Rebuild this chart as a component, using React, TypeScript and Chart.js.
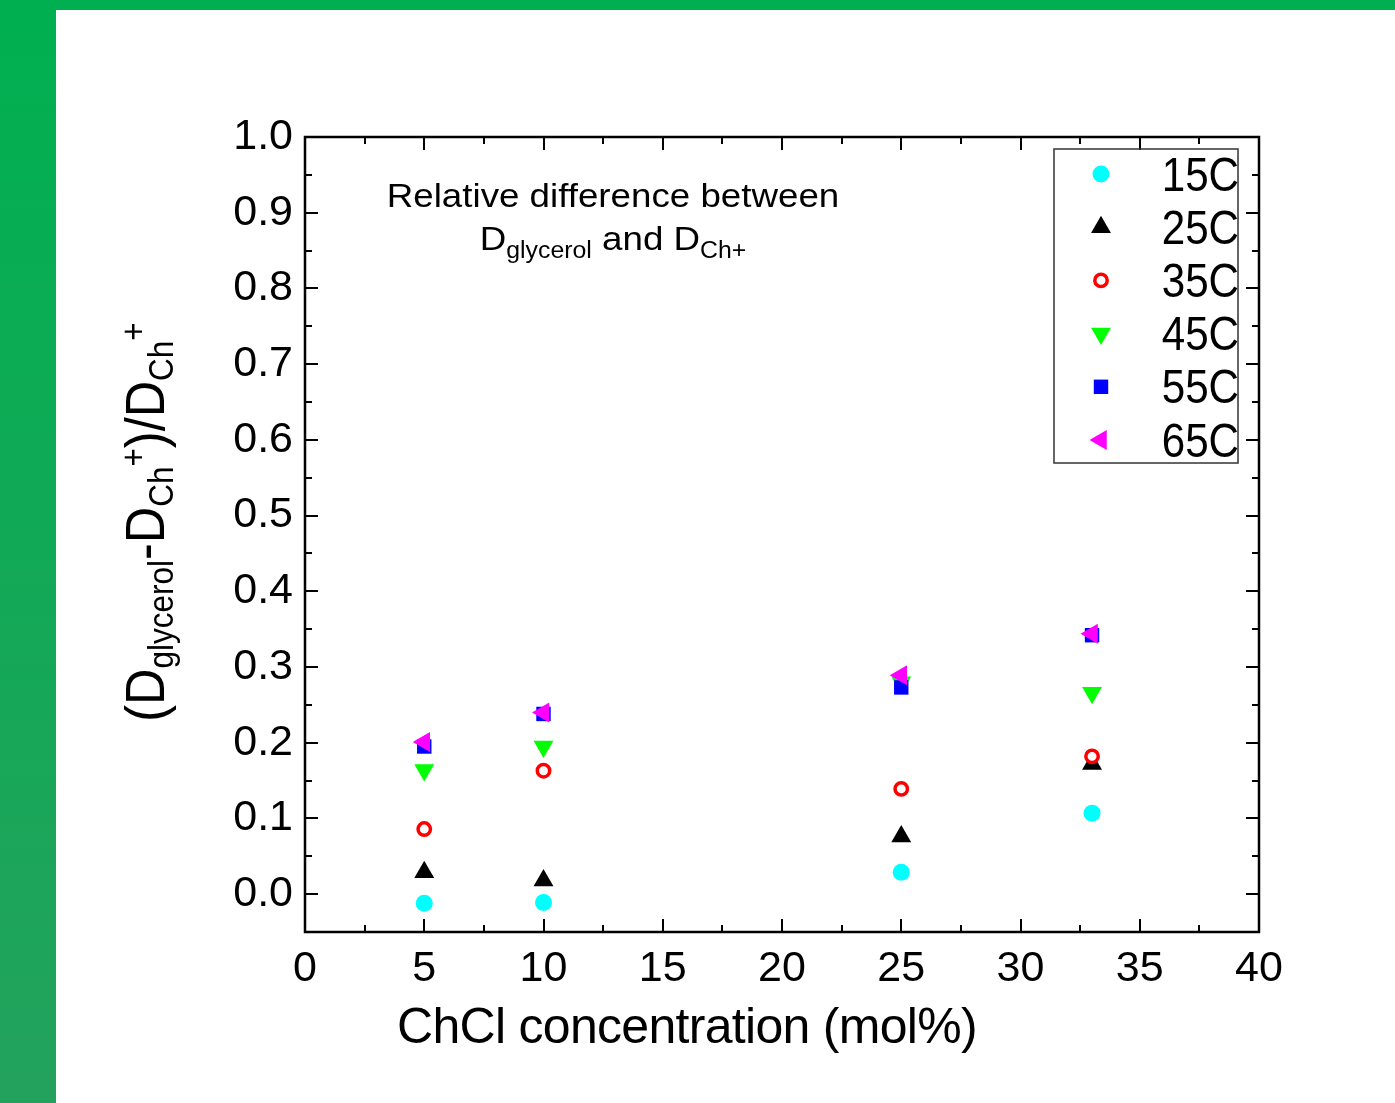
import React, { useEffect, useRef } from "react";
import { Chart, registerables } from "chart.js";
import { drawPoint } from "chart.js/helpers";

Chart.register(...registerables);

// ---------- data ----------
const concentrations = [5, 10, 25, 33];
const seriesLabels = ["15C", "25C", "35C", "45C", "55C", "65C"];
const s15C = [-0.012, -0.011, 0.029, 0.107];
const s25C = [0.029, 0.018, 0.076, 0.172];
const s35C = [0.086, 0.163, 0.139, 0.182];
const s45C = [0.164, 0.195, 0.280, 0.266];
const s55C = [0.195, 0.238, 0.273, 0.342];
const s65C = [0.201, 0.240, 0.289, 0.344];
const seriesValues = [s15C, s25C, s35C, s45C, s55C, s65C];
const xTickValues = [0, 5, 10, 15, 20, 25, 30, 35, 40];
const yTickValues = [0.0, 0.1, 0.2, 0.3, 0.4, 0.5, 0.6, 0.7, 0.8, 0.9, 1.0];
const xRange = [0, 40];
const yRange = [-0.05, 1.0];
const xMinorStep = 2.5;
const yMinorStep = 0.05;

// ---------- styles ----------
const FONT = '"Liberation Sans", Arial, Helvetica, sans-serif';
const markerStyles = [
  { pointStyle: "circle", radius: 8.5, rotation: 0, bg: "#00ffff", border: "#00ffff", bw: 0 },
  { pointStyle: "triangle", radius: 11.5, rotation: 0, bg: "#000000", border: "#000000", bw: 0 },
  { pointStyle: "circle", radius: 6.2, rotation: 0, bg: "#ffffff", border: "#ff0000", bw: 3.5 },
  { pointStyle: "triangle", radius: 11.5, rotation: 180, bg: "#00ff00", border: "#00ff00", bw: 0 },
  { pointStyle: "rect", radius: 10.2, rotation: 0, bg: "#0000ff", border: "#0000ff", bw: 0 },
  { pointStyle: "triangle", radius: 11.5, rotation: -90, bg: "#ff00ff", border: "#ff00ff", bw: 0 },
];

type Seg = { t: string; size: number; dy: number };

function drawSegs(ctx: CanvasRenderingContext2D, segs: Seg[], x: number, y: number, align: "left" | "center") {
  ctx.textAlign = "left";
  ctx.textBaseline = "alphabetic";
  const widths = segs.map((s) => {
    ctx.font = `${s.size}px ${FONT}`;
    return ctx.measureText(s.t).width;
  });
  const total = widths.reduce((a, b) => a + b, 0);
  let cx = align === "center" ? x - total / 2 : x;
  segs.forEach((s, i) => {
    ctx.font = `${s.size}px ${FONT}`;
    ctx.fillText(s.t, cx, y + s.dy);
    cx += widths[i];
  });
}

const decorPlugin = {
  id: "decor",
  beforeDraw(chart: any) {
    const ctx: CanvasRenderingContext2D = chart.ctx;
    const W = chart.width;
    const H = chart.height;
    ctx.save();
    ctx.fillStyle = "#ffffff";
    ctx.fillRect(0, 0, W, H);
    const g = ctx.createLinearGradient(0, 0, 0, H);
    g.addColorStop(0, "#00b050");
    g.addColorStop(1, "#23a25d");
    ctx.fillStyle = g;
    ctx.fillRect(0, 0, 56, H);
    ctx.fillStyle = "#00b050";
    ctx.fillRect(0, 0, W, 10);
    ctx.restore();
  },
  afterDraw(chart: any) {
    const ctx: CanvasRenderingContext2D = chart.ctx;
    const { left, right, top, bottom } = chart.chartArea;
    const xs = chart.scales.x;
    const ys = chart.scales.y;
    ctx.save();
    ctx.strokeStyle = "#000";
    ctx.lineWidth = 2.5;
    ctx.lineCap = "butt";
    ctx.strokeRect(left, top, right - left, bottom - top);
    ctx.lineWidth = 2;
    ctx.beginPath();
    const nx = Math.round((xRange[1] - xRange[0]) / xMinorStep);
    for (let i = 0; i <= nx; i++) {
      const v = xRange[0] + i * xMinorStep;
      const len = i % 2 === 0 ? 13 : 7;
      const px = Math.round(xs.getPixelForValue(v));
      ctx.moveTo(px, bottom);
      ctx.lineTo(px, bottom - len);
      ctx.moveTo(px, top);
      ctx.lineTo(px, top + len);
    }
    const ny = Math.round((yRange[1] - yRange[0]) / yMinorStep);
    for (let i = 0; i <= ny; i++) {
      const v = yRange[0] + i * yMinorStep;
      const len = i % 2 === 1 ? 13 : 7;
      const py = Math.round(ys.getPixelForValue(v));
      ctx.moveTo(left, py);
      ctx.lineTo(left + len, py);
      ctx.moveTo(right, py);
      ctx.lineTo(right - len, py);
    }
    ctx.stroke();

    // legend
    ctx.lineWidth = 1.5;
    ctx.strokeStyle = "#333";
    ctx.strokeRect(1054, 149, 184, 314);
    seriesLabels.forEach((lab, i) => {
      const st = markerStyles[i];
      const cy = 174 + i * 53.2;
      ctx.fillStyle = st.bg;
      ctx.strokeStyle = st.border;
      ctx.lineWidth = st.bw;
      drawPoint(ctx, { pointStyle: st.pointStyle, radius: st.radius, rotation: st.rotation, borderWidth: st.bw } as any, 1101, cy);
      ctx.save();
      ctx.fillStyle = "#000";
      ctx.font = `49px ${FONT}`;
      ctx.textAlign = "right";
      ctx.textBaseline = "alphabetic";
      ctx.translate(1239, cy + 16.5);
      ctx.scale(0.86, 1);
      ctx.fillText(lab, 0, 0);
      ctx.restore();
    });

    ctx.fillStyle = "#000";
    // annotation
    ctx.save();
    ctx.translate(613, 0);
    ctx.scale(1.08, 1);
    drawSegs(ctx, [{ t: "Relative difference between", size: 34, dy: 0 }], 0, 207, "center");
    drawSegs(
      ctx,
      [
        { t: "D", size: 34, dy: 0 },
        { t: "glycerol", size: 23, dy: 8 },
        { t: " and D", size: 34, dy: 0 },
        { t: "Ch+", size: 23, dy: 8 },
      ],
      0,
      250,
      "center"
    );
    ctx.restore();

    // x title
    ctx.save();
    (ctx as any).letterSpacing = "-0.7px";
    ctx.font = `50px ${FONT}`;
    ctx.textAlign = "center";
    ctx.textBaseline = "alphabetic";
    ctx.fillText("ChCl concentration (mol%)", 687, 1043);
    ctx.restore();

    // y title
    ctx.save();
    ctx.translate(164, 522);
    ctx.rotate(-Math.PI / 2);
    ctx.scale(0.9, 1);
    const M = 56;
    const S = 35;
    drawSegs(
      ctx,
      [
        { t: "(D", size: M, dy: 0 },
        { t: "glycerol", size: S, dy: 9 },
        { t: "-D", size: M, dy: 0 },
        { t: "Ch", size: S, dy: 9 },
        { t: "+", size: S, dy: -19 },
        { t: ")/D", size: M, dy: 0 },
        { t: "Ch", size: S, dy: 9 },
        { t: "+", size: S, dy: -19 },
      ],
      0,
      0,
      "center"
    );
    ctx.restore();
    ctx.restore();
  },
};

export default function App() {
  const ref = useRef<HTMLCanvasElement | null>(null);
  useEffect(() => {
    if (!ref.current) return;
    const datasets = seriesLabels.map((lab, i) => {
      const st = markerStyles[i];
      return {
        label: lab,
        data: concentrations.map((c, j) => ({ x: c, y: seriesValues[i][j] })),
        pointStyle: st.pointStyle,
        pointRadius: st.radius,
        pointRotation: st.rotation,
        pointBackgroundColor: st.bg,
        pointBorderColor: st.border,
        pointBorderWidth: st.bw,
        showLine: false,
        order: seriesLabels.length - 1 - i,
      };
    });
    const chart = new Chart(ref.current, {
      type: "scatter",
      data: { datasets: datasets as any },
      options: {
        animation: false,
        responsive: false,
        devicePixelRatio: 1,
        layout: { padding: { left: 0, right: 136, top: 137, bottom: 0 } },
        plugins: { legend: { display: false }, tooltip: { enabled: false } },
        scales: {
          x: {
            type: "linear",
            min: xRange[0],
            max: xRange[1],
            grid: { display: false, drawTicks: false },
            border: { display: false },
            afterFit: (s: any) => {
              s.height = 171;
            },
            afterBuildTicks: (s: any) => {
              s.ticks = xTickValues.map((v) => ({ value: v }));
            },
            ticks: {
              color: "#000",
              padding: 11,
              font: { family: FONT, size: 43 },
              maxRotation: 0,
              autoSkip: false,
              callback: (v: any) => String(v),
            },
          },
          y: {
            type: "linear",
            min: yRange[0],
            max: yRange[1],
            grid: { display: false, drawTicks: false },
            border: { display: false },
            afterFit: (s: any) => {
              s.width = 305;
            },
            afterBuildTicks: (s: any) => {
              s.ticks = yTickValues.map((v) => ({ value: v }));
            },
            ticks: {
              color: "#000",
              padding: 12,
              font: { family: FONT, size: 43 },
              autoSkip: false,
              callback: (v: any) => Number(v).toFixed(1),
            },
          },
        },
      },
      plugins: [decorPlugin],
    });
    return () => chart.destroy();
  }, []);
  return (
    <div style={{ position: "absolute", left: 0, top: 0, width: 1395, height: 1103 }}>
      <canvas ref={ref} width={1395} height={1103} style={{ display: "block" }} />
    </div>
  );
}
